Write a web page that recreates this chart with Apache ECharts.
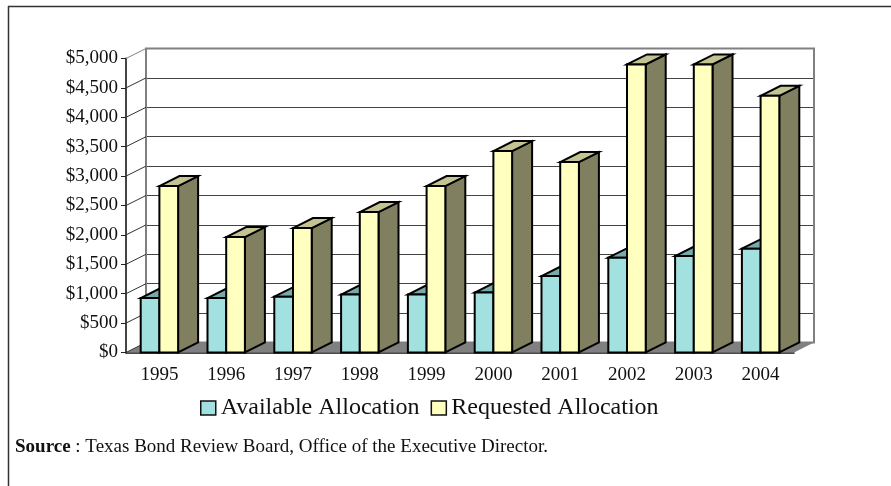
<!DOCTYPE html>
<html>
<head>
<meta charset="utf-8">
<style>
  html, body { margin: 0; padding: 0; background: #fff; }
  #chart { width: 891px; height: 486px; }
</style>
</head>
<body>
<div id="chart"></div>
<script src="https://cdn.jsdelivr.net/npm/echarts@6/dist/echarts.min.js"></script>
<script>
const years = ['1995', '1996', '1997', '1998', '1999', '2000', '2001', '2002', '2003', '2004'];
const available = [925, 925, 950, 985, 985, 1020, 1300, 1612, 1640, 1765];
const requested = [2830, 1963, 2117, 2388, 2830, 3425, 3238, 4900, 4900, 4365];
const yTicks = [0, 500, 1000, 1500, 2000, 2500, 3000, 3500, 4000, 4500, 5000];

const FONT = '"Liberation Serif", serif';
// depth of the fake 3d box, px
const DX = 20;
const DY = -10;
const BAR_RATIO = 0.28;

const chart = echarts.init(document.getElementById('chart'));

// one 3d bar: side, top, then front face
function barItem(offset, front, top, side) {
  return function (params, api) {
    const p = api.coord([api.value(0), api.value(1)]);
    const base = api.coord([api.value(0), 0]);
    const w = api.size([1, 0])[0] * BAR_RATIO;
    const x0 = p[0] + offset * w;
    const x1 = x0 + w;
    const line = { stroke: '#000', lineWidth: 2 };
    return {
      type: 'group',
      children: [
        {
          type: 'polygon',
          shape: { points: [[x1, p[1]], [x1 + DX, p[1] + DY], [x1 + DX, base[1] + DY], [x1, base[1]]] },
          style: Object.assign({ fill: side }, line)
        },
        {
          type: 'polygon',
          shape: { points: [[x0, p[1]], [x0 + DX, p[1] + DY], [x1 + DX, p[1] + DY], [x1, p[1]]] },
          style: Object.assign({ fill: top }, line)
        },
        {
          type: 'rect',
          shape: { x: x0, y: p[1], width: w, height: base[1] - p[1] },
          style: Object.assign({ fill: front }, line)
        }
      ]
    };
  };
}

// floor and the slanted lines joining the front axis to the back wall
function wallItem(params, api) {
  const cs = params.coordSys;
  const v = api.value(0);
  const y = api.coord([0, v])[1];
  const children = [{
    type: 'line',
    shape: { x1: cs.x, y1: y, x2: cs.x + DX, y2: y + DY },
    style: { stroke: v === 5000 ? '#808080' : '#333', lineWidth: 1 }
  }];
  if (v === 0) {
    children.unshift({
      type: 'polygon',
      shape: { points: [[cs.x, y], [cs.x + DX, y + DY], [cs.x + cs.width + DX, y + DY], [cs.x + cs.width, y]] },
      style: { fill: '#808080' }
    });
  }
  return { type: 'group', children: children };
}

chart.setOption({
  animation: false,
  backgroundColor: '#fff',
  grid: [
    { left: 126, top: 58.5, width: 668, height: 294, z: 3 },
    { left: 146, top: 48.5, width: 668, height: 294, show: true, borderColor: '#808080', borderWidth: 2, backgroundColor: 'transparent', z: 1 }
  ],
  xAxis: [
    {
      type: 'category',
      data: years,
      axisLine: { lineStyle: { color: '#111', width: 1.5 } },
      axisTick: { length: 6, lineStyle: { color: '#222' } },
      axisLabel: { fontFamily: FONT, fontSize: 19, color: '#111', margin: 13 }
    },
    { type: 'category', data: years, gridIndex: 1, show: false }
  ],
  yAxis: [
    {
      type: 'value',
      min: 0,
      max: 5000,
      interval: 500,
      axisLine: { show: true, lineStyle: { color: '#444', width: 2 } },
      axisTick: { show: true, length: 5, lineStyle: { color: '#222' } },
      splitLine: { show: false },
      axisLabel: {
        fontFamily: FONT,
        fontSize: 19,
        color: '#111',
        margin: 8,
        formatter: function (v) { return '$' + v.toLocaleString('en-US'); }
      }
    },
    {
      type: 'value',
      gridIndex: 1,
      min: 0,
      max: 5000,
      interval: 500,
      axisLine: { show: false },
      axisTick: { show: false },
      axisLabel: { show: false },
      splitLine: { show: true, lineStyle: { color: '#444', width: 1 } }
    }
  ],
  legend: {
    left: 195,
    top: 391,
    itemWidth: 15,
    itemHeight: 14,
    itemGap: 11,
    icon: 'rect',
    textStyle: { fontFamily: FONT, fontSize: 24, color: '#111' },
    data: [
      { name: 'Available Allocation', itemStyle: { color: '#A3E0E0', borderColor: '#111', borderWidth: 1.5 } },
      { name: 'Requested Allocation', itemStyle: { color: '#FFFFC0', borderColor: '#111', borderWidth: 1.5 } }
    ]
  },
  series: [
    {
      type: 'custom',
      name: 'wall',
      z: 2,
      data: yTicks.map(function (v) { return [v]; }),
      renderItem: wallItem,
      clip: false,
      silent: true
    },
    {
      type: 'custom',
      name: 'Available Allocation',
      z: 4,
      itemStyle: { color: '#A3E0E0' },
      data: available.map(function (v, i) { return [i, v]; }),
      renderItem: barItem(-1, '#A3E0E0', '#78AAAA', '#52706F'),
      clip: false
    },
    {
      type: 'custom',
      name: 'Requested Allocation',
      z: 5,
      itemStyle: { color: '#FFFFC0' },
      data: requested.map(function (v, i) { return [i, v]; }),
      renderItem: barItem(0, '#FFFFC0', '#C4C493', '#808060'),
      clip: false
    }
  ],
  graphic: [
    { type: 'line', shape: { x1: 8, y1: 6.5, x2: 891, y2: 6.5 }, style: { stroke: '#333', lineWidth: 1.5 } },
    { type: 'line', shape: { x1: 8.5, y1: 6, x2: 8.5, y2: 486 }, style: { stroke: '#333', lineWidth: 1.5 } },
    {
      type: 'text',
      left: 15,
      top: 438,
      style: {
        text: '{b|Source} : Texas Bond Review Board, Office of the Executive Director.',
        fontFamily: FONT,
        fontSize: 19,
        fill: '#111',
        rich: { b: { fontFamily: FONT, fontSize: 19, fontWeight: 'bold', fill: '#111' } }
      }
    }
  ]
});
</script>
</body>
</html>
